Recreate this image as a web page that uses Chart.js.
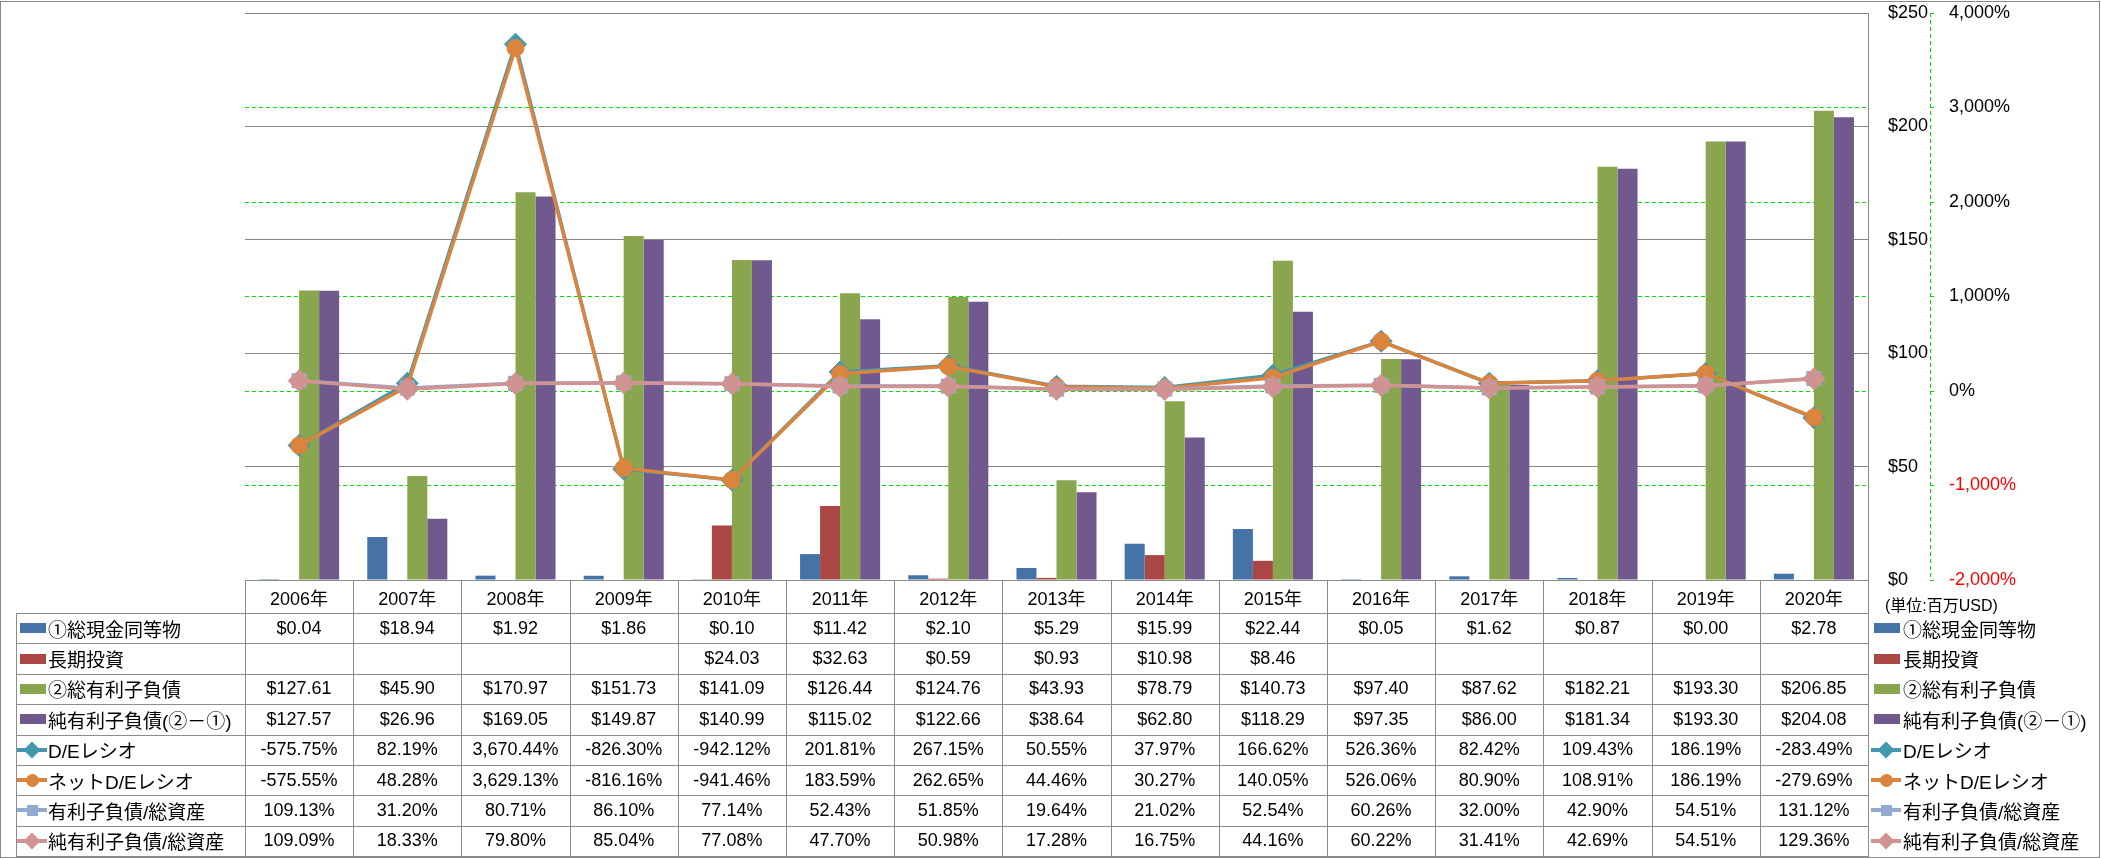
<!DOCTYPE html>
<html><head><meta charset="utf-8">
<script src="https://cdn.jsdelivr.net/npm/chart.js@4"></script>
<style>
html,body{margin:0;padding:0;background:#fff;}
#wrap{position:relative;width:2101px;height:858px;overflow:hidden;font-family:"Liberation Sans","Noto Sans CJK JP",sans-serif;color:#000;}
canvas{position:absolute;left:0;top:0;}
.frame{position:absolute;left:0;top:1px;width:2098px;height:855px;border:1px solid #868686;pointer-events:none;}
.cell{position:absolute;display:flex;align-items:center;justify-content:center;font-size:18px;white-space:nowrap;}
.lab{justify-content:flex-start;font-size:19px;}
.hl{position:absolute;height:1px;background:#8c8c8c;}
.vl{position:absolute;width:1px;background:#8c8c8c;}
.unit{position:absolute;font-size:16px;white-space:nowrap;}
</style></head>
<body><div id="wrap"><canvas id="c" width="2101" height="858"></canvas><div id="tbl"></div><div class="frame"></div></div>
<script>
const years = ['2006年','2007年','2008年','2009年','2010年','2011年','2012年','2013年','2014年','2015年','2016年','2017年','2018年','2019年','2020年'];
const cash = [0.04,18.94,1.92,1.86,0.10,11.42,2.10,5.29,15.99,22.44,0.05,1.62,0.87,0.00,2.78];
const ltInvest = [null,null,null,null,24.03,32.63,0.59,0.93,10.98,8.46,null,null,null,null,null];
const debt = [127.61,45.90,170.97,151.73,141.09,126.44,124.76,43.93,78.79,140.73,97.40,87.62,182.21,193.30,206.85];
const netDebt = [127.57,26.96,169.05,149.87,140.99,115.02,122.66,38.64,62.80,118.29,97.35,86.00,181.34,193.30,204.08];
const deRatio = [-575.75,82.19,3670.44,-826.30,-942.12,201.81,267.15,50.55,37.97,166.62,526.36,82.42,109.43,186.19,-283.49];
const netDeRatio = [-575.55,48.28,3629.13,-816.16,-941.46,183.59,262.65,44.46,30.27,140.05,526.06,80.90,108.91,186.19,-279.69];
const debtToAssets = [109.13,31.20,80.71,86.10,77.14,52.43,51.85,19.64,21.02,52.54,60.26,32.00,42.90,54.51,131.12];
const netDebtToAssets = [109.09,18.33,79.80,85.04,77.08,47.70,50.98,17.28,16.75,44.16,60.22,31.41,42.69,54.51,129.36];
const moneyTicks = [0,50,100,150,200,250];
const pctTicks = [-2000,-1000,0,1000,2000,3000,4000];

const names = ['①総現金同等物','長期投資','②総有利子負債','純有利子負債(②－①)','D/Eレシオ','ネットD/Eレシオ','有利子負債/総資産','純有利子負債/総資産'];
const colors = ['#4572A7','#AA4643','#89A54E','#71588F','#4198AF','#DB843D','#93A9CF','#D19392'];
const GREEN = '#00E000';

const fmtMoney = v => v == null ? '' : '$' + v.toFixed(2);
const fmtPct = v => v == null ? '' : v.toLocaleString('en-US',{minimumFractionDigits:2,maximumFractionDigits:2}) + '%';

const barDs = (i, data) => ({type:'bar', label:names[i], data, backgroundColor:colors[i], borderWidth:0, yAxisID:'y', order:10,
  barPercentage:1, categoryPercentage:0.74});
const lineDs = (i, data, style, r, order) => ({type:'line', label:names[i], data, borderColor:colors[i], backgroundColor:colors[i],
  borderWidth:3.5, pointStyle:style, pointRadius:r, pointBorderWidth:1, pointBorderColor:colors[i], pointBackgroundColor:colors[i],
  tension:0, yAxisID:'y2', order, clip:false});

const y2LinePlugin = {
  id:'y2line',
  afterDraw(chart){
    const s = chart.scales.y2, ctx = chart.ctx;
    ctx.save();
    ctx.strokeStyle = GREEN; ctx.lineWidth = 1; ctx.setLineDash([4,3]);
    const x = Math.round(s.left) + 0.5;
    ctx.beginPath(); ctx.moveTo(x, s.top); ctx.lineTo(x, s.bottom); ctx.stroke();
    ctx.restore();
  }
};

const chart = new Chart(document.getElementById('c'), {
  data:{
    labels: years,
    datasets:[
      barDs(0, cash), barDs(1, ltInvest), barDs(2, debt), barDs(3, netDebt),
      lineDs(4, deRatio, 'rectRot', 11, 4),
      lineDs(5, netDeRatio, 'circle', 8.5, 3),
      lineDs(6, debtToAssets, 'rect', 10, 2),
      lineDs(7, netDebtToAssets, 'rectRot', 11, 1)
    ]
  },
  options:{
    responsive:false, animation:false, devicePixelRatio:1,
    events:[],
    layout:{padding:{left:245, top:13, right:61, bottom:278}},
    plugins:{legend:{display:false}, tooltip:{enabled:false}},
    scales:{
      x:{type:'category', display:false, offset:true},
      y:{type:'linear', position:'right', weight:0, min:0, max:250,
        afterBuildTicks:s => { s.ticks = moneyTicks.map(v => ({value:v})); },
        afterFit:s => { s.width = 62; s.paddingTop = 0; s.paddingBottom = 0; },
        ticks:{padding:20, color:'#000', font:{family:'"Liberation Sans", sans-serif', size:18}, callback:v => '$' + v},
        grid:{color:'#868686', lineWidth:1, drawTicks:false},
        border:{display:true, color:'#868686', width:1}
      },
      y2:{type:'linear', position:'right', weight:1, min:-2000, max:4000,
        afterBuildTicks:s => { s.ticks = pctTicks.map(v => ({value:v})); },
        afterFit:s => { s.width = 110; s.paddingTop = 0; s.paddingBottom = 0; },
        ticks:{padding:15, font:{family:'"Liberation Sans", sans-serif', size:18},
          color:c => (c.tick && c.tick.value < 0) ? '#FF0000' : '#000',
          callback:v => v.toLocaleString('en-US') + '%'},
        grid:{lineWidth:1, drawTicks:true, tickLength:4, tickColor:GREEN,
          color:c => (c.tick && (c.tick.value === 4000 || c.tick.value === -2000)) ? 'rgba(0,0,0,0)' : GREEN},
        border:{display:false, dash:[4,3]}
      }
    }
  },
  plugins:[y2LinePlugin]
});

// ---- data table built from the same arrays and the chart's x scale ----
const rows = [
  {data:cash, fmt:fmtMoney, kind:'bar'},
  {data:ltInvest, fmt:fmtMoney, kind:'bar'},
  {data:debt, fmt:fmtMoney, kind:'bar'},
  {data:netDebt, fmt:fmtMoney, kind:'bar'},
  {data:deRatio, fmt:fmtPct, kind:'line', marker:'diamond'},
  {data:netDeRatio, fmt:fmtPct, kind:'line', marker:'circle'},
  {data:debtToAssets, fmt:fmtPct, kind:'line', marker:'square'},
  {data:netDebtToAssets, fmt:fmtPct, kind:'line', marker:'diamond'}
];

function swatch(x, cy, idx, kind, marker){
  const c = colors[idx];
  if (kind === 'bar') return `<div style="position:absolute;left:${x}px;top:${cy-5}px;width:26px;height:10px;background:${c}"></div>`;
  let h = `<div style="position:absolute;left:${x-3}px;top:${cy-2}px;width:30px;height:4px;background:${c}"></div>`;
  const mx = x + 12;
  if (marker === 'diamond') h += `<div style="position:absolute;left:${mx-6}px;top:${cy-6}px;width:12px;height:12px;background:${c};transform:rotate(45deg)"></div>`;
  else if (marker === 'circle') h += `<div style="position:absolute;left:${mx-6.5}px;top:${cy-6.5}px;width:13px;height:13px;border-radius:50%;background:${c}"></div>`;
  else h += `<div style="position:absolute;left:${mx-5.5}px;top:${cy-5.5}px;width:11px;height:11px;background:${c}"></div>`;
  return h;
}

(function buildTable(){
  const ca = chart.chartArea;
  const xs = chart.scales.x;
  const cw = (ca.right - ca.left) / years.length;
  const headTop = Math.round(ca.bottom), headH = 33;
  const rowTop = headTop + headH, tableBottom = 856;
  const rh = (tableBottom - rowTop) / rows.length;
  const tblLeft = 16;
  let h = '';
  years.forEach((y, i) => {
    const cx = xs.getPixelForValue(i);
    h += `<div class="cell" style="left:${cx - cw/2}px;top:${headTop}px;width:${cw}px;height:${headH}px">${y}</div>`;
  });
  rows.forEach((r, ri) => {
    const top = rowTop + ri * rh, cy = top + rh / 2;
    h += swatch(20, Math.round(cy), ri, r.kind, r.marker);
    h += `<div class="cell lab" style="left:48px;top:${top}px;height:${rh}px">${names[ri]}</div>`;
    r.data.forEach((v, i) => {
      const cx = xs.getPixelForValue(i);
      h += `<div class="cell" style="left:${cx - cw/2}px;top:${top}px;width:${cw}px;height:${rh}px">${r.fmt(v)}</div>`;
    });
    h += swatch(1874, Math.round(cy), ri, r.kind, r.marker);
    h += `<div class="cell lab" style="left:1903px;top:${top}px;height:${rh}px">${names[ri]}</div>`;
  });
  h += `<div class="hl" style="left:${Math.round(ca.left)}px;top:${headTop}px;width:${Math.round(ca.right - ca.left)+1}px"></div>`;
  for (let k = 0; k <= rows.length; k++) {
    const y = Math.round(rowTop + k * rh);
    h += `<div class="hl" style="left:${tblLeft}px;top:${y}px;width:${Math.round(ca.right) - tblLeft + 1}px"></div>`;
  }
  h += `<div class="vl" style="left:${tblLeft}px;top:${rowTop}px;height:${tableBottom - rowTop + 1}px"></div>`;
  for (let i = 0; i <= years.length; i++) {
    const x = Math.round(ca.left + i * cw);
    h += `<div class="vl" style="left:${x}px;top:${headTop}px;height:${tableBottom - headTop + 1}px"></div>`;
  }
  h += `<div class="unit" style="left:1885px;top:592px">(単位:百万USD)</div>`;
  document.getElementById('tbl').innerHTML = h;
})();
</script>
</body></html>
